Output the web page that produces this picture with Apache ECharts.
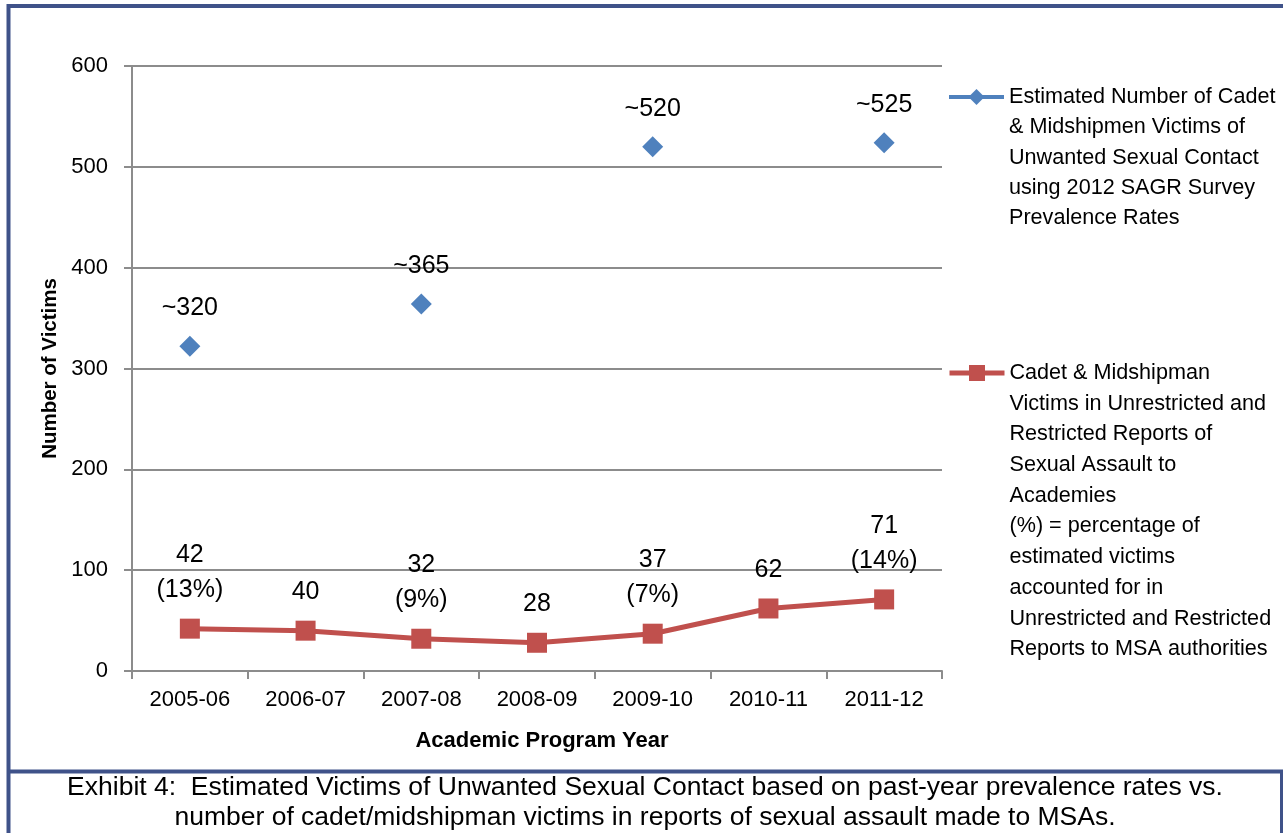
<!DOCTYPE html>
<html>
<head>
<meta charset="utf-8">
<script src="https://cdn.jsdelivr.net/npm/echarts@6/dist/echarts.min.js"></script>
<style>
html,body{margin:0;padding:0;background:#fff;}
#c{width:1283px;height:833px;}
</style>
</head>
<body>
<div id="c"></div>
<script>
var categories = ['2005-06','2006-07','2007-08','2008-09','2009-10','2010-11','2011-12'];
var estimatedValues = [322, null, 364, null, 520, null, 524];
var estimatedLabels = ['~320', '', '~365', '', '~520', '', '~525'];
var reportedValues = [42, 40, 32, 28, 37, 62, 71];
var reportedLabels = ['42\n(13%)', '40', '32\n(9%)', '28', '37\n(7%)', '62', '71\n(14%)'];
var yTicks = [0, 100, 200, 300, 400, 500, 600];
var seriesNames = [
  'Estimated Number of Cadet\n& Midshipmen Victims of\nUnwanted Sexual Contact\nusing 2012 SAGR Survey\nPrevalence Rates',
  'Cadet & Midshipman\nVictims in Unrestricted and\nRestricted Reports of\nSexual Assault to\nAcademies\n(%) = percentage of\nestimated victims\naccounted for in\nUnrestricted and Restricted\nReports to MSA authorities'
];
var captionLines = [
  'Exhibit 4:  Estimated Victims of Unwanted Sexual Contact based on past-year prevalence rates vs.',
  'number of cadet/midshipman victims in reports of sexual assault made to MSAs.'
];

var FONT = '"Liberation Sans", Arial, sans-serif';
var BLUE = '#4F81BD', RED = '#C0504D', GRID = '#8C8C8C', FRAME = '#3F5289';
var LH1 = 30.3, LH2 = 30.7;

// pad multi-line legend text with blank lines so the first line sits beside the icon
function legendFormatter(name) {
  var n = name.split('\n').length;
  return new Array(n).join('\n') + name;
}

var chart = echarts.init(document.getElementById('c'), null, {renderer: 'canvas'});
chart.setOption({
  backgroundColor: '#fff',
  animation: false,
  grid: {left: 132, right: 341, top: 66, bottom: 162, containLabel: false},
  legend: [
    {
      data: [seriesNames[0]], left: 947, top: 97 - 4.5 * LH1, orient: 'vertical',
      padding: 0, itemWidth: 55, itemHeight: 20, itemGap: 0, formatter: legendFormatter,
      lineStyle: {width: 4},
      textStyle: {fontFamily: FONT, fontSize: 21.6, color: '#000', lineHeight: LH1}
    },
    {
      data: [seriesNames[1]], left: 947, top: 373 - 9.5 * LH2, orient: 'vertical',
      padding: 0, itemWidth: 55, itemHeight: 20, itemGap: 0, formatter: legendFormatter,
      lineStyle: {width: 5},
      textStyle: {fontFamily: FONT, fontSize: 21.6, color: '#000', lineHeight: LH2}
    }
  ],
  xAxis: {
    type: 'category', data: categories, boundaryGap: true,
    name: 'Academic Program Year', nameLocation: 'middle', nameGap: 59,
    nameTextStyle: {fontFamily: FONT, fontSize: 22, fontWeight: 'bold', color: '#000', padding: [0, 0, 0, 10]},
    axisLine: {lineStyle: {color: GRID, width: 2}},
    axisTick: {show: true, length: 8, alignWithLabel: false, lineStyle: {color: GRID, width: 2}},
    axisLabel: {fontFamily: FONT, fontSize: 22, color: '#000', margin: 18, interval: 0}
  },
  yAxis: {
    type: 'value', min: yTicks[0], max: yTicks[yTicks.length - 1], interval: 100,
    name: 'Number of Victims', nameLocation: 'middle', nameGap: 68, nameRotate: 90,
    nameTextStyle: {fontFamily: FONT, fontSize: 20.5, fontWeight: 'bold', color: '#000'},
    axisLine: {show: true, lineStyle: {color: GRID, width: 2}},
    axisTick: {show: true, length: 8, lineStyle: {color: GRID, width: 2}},
    axisLabel: {fontFamily: FONT, fontSize: 22, color: '#000', margin: 24},
    splitLine: {lineStyle: {color: GRID, width: 2}}
  },
  series: [
    {
      name: seriesNames[0], type: 'line', data: estimatedValues, connectNulls: false,
      symbol: 'diamond', symbolSize: 21, showSymbol: true,
      itemStyle: {color: BLUE}, lineStyle: {color: BLUE, width: 4},
      label: {
        show: true, position: 'top', distance: 10, lineHeight: 35,
        fontFamily: FONT, fontSize: 25, color: '#000',
        formatter: function (p) { return estimatedLabels[p.dataIndex]; }
      }
    },
    {
      name: seriesNames[1], type: 'line', data: reportedValues,
      symbol: 'rect', symbolSize: 20, showSymbol: true,
      itemStyle: {color: RED}, lineStyle: {color: RED, width: 5},
      label: {
        show: true, position: 'top', distance: 11, lineHeight: 35,
        fontFamily: FONT, fontSize: 25, color: '#000',
        formatter: function (p) { return reportedLabels[p.dataIndex]; }
      }
    }
  ],
  graphic: [
    {type: 'rect', shape: {x: 8.5, y: 6, width: 1278, height: 900}, style: {fill: 'none', stroke: FRAME, lineWidth: 4}, silent: true},
    {type: 'line', shape: {x1: 8, y1: 771.5, x2: 1283, y2: 771.5}, style: {stroke: FRAME, lineWidth: 4}, silent: true},
    {type: 'line', shape: {x1: 1281.5, y1: 771, x2: 1281.5, y2: 833}, style: {stroke: FRAME, lineWidth: 3}, silent: true},
    {type: 'text', x: 645, y: 788, style: {text: captionLines[0], fontFamily: FONT, fontSize: 26.5, fill: '#000', align: 'center', verticalAlign: 'middle'}},
    {type: 'text', x: 645, y: 818, style: {text: captionLines[1], fontFamily: FONT, fontSize: 26.5, fill: '#000', align: 'center', verticalAlign: 'middle'}}
  ]
});
</script>
</body>
</html>
